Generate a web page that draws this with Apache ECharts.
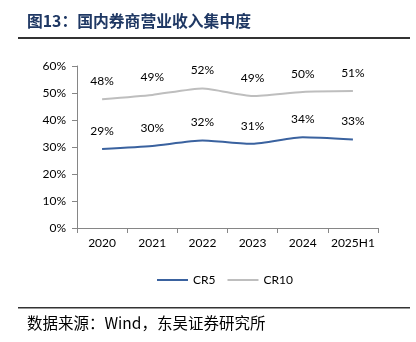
<!DOCTYPE html>
<html>
<head>
<meta charset="utf-8">
<script src="https://cdn.jsdelivr.net/npm/echarts@6/dist/echarts.min.js"></script>
<style>
html,body{margin:0;padding:0;background:#fff;}
#c{width:416px;height:342px;}
</style>
</head>
<body>
<div id="c"></div>
<script>
var categories = ['2020', '2021', '2022', '2023', '2024', '2025H1'];
var cr5 = [29.3, 30.4, 32.4, 31.2, 33.6, 32.8];
var cr10 = [47.7, 49.3, 51.7, 48.9, 50.4, 50.7];
var seriesNames = ['CR5', 'CR10'];
var titleText = '图13：国内券商营业收入集中度';
var sourceText = '数据来源：Wind，东吴证券研究所';

var chart = echarts.init(document.getElementById('c'), null, {renderer: 'canvas'});
var labelFont = 'Lato, "Open Sans", sans-serif';
function lbl(p) { return Math.round(p.value) + '%'; }
chart.setOption({
  animation: false,
  backgroundColor: '#fff',
  grid: {left: 77, right: 38, top: 66, bottom: 114, containLabel: false},
  xAxis: {
    type: 'category',
    data: categories,
    boundaryGap: true,
    axisLine: {lineStyle: {color: '#868686', width: 1}},
    axisTick: {show: true, inside: false, length: 5, interval: 0, lineStyle: {color: '#868686'}},
    axisLabel: {color: '#000', fontSize: 12, fontFamily: labelFont, margin: 9, interval: 0}
  },
  yAxis: {
    type: 'value',
    min: 0, max: 60, interval: 10,
    axisLine: {show: true, lineStyle: {color: '#868686', width: 1}},
    axisTick: {show: true, length: 5, lineStyle: {color: '#868686'}},
    splitLine: {show: false},
    axisLabel: {color: '#000', fontSize: 12, fontFamily: labelFont, margin: 11, formatter: '{value}%'}
  },
  legend: {
    data: seriesNames,
    left: 152, top: 269,
    icon: 'rect',
    itemWidth: 31, itemHeight: 2, itemGap: 12,
    textStyle: {color: '#000', fontSize: 12, fontFamily: labelFont}
  },
  series: [
    {
      name: seriesNames[0], type: 'line', data: cr5, smooth: 0.2,
      symbol: 'circle', symbolSize: 0, showSymbol: true,
      lineStyle: {color: '#3A629F', width: 2},
      itemStyle: {color: '#3A629F'},
      label: {show: true, position: 'top', distance: 12, formatter: lbl, color: '#000', fontSize: 12, fontFamily: labelFont}
    },
    {
      name: seriesNames[1], type: 'line', data: cr10, smooth: 0.2,
      symbol: 'circle', symbolSize: 0, showSymbol: true,
      lineStyle: {color: '#BEBEBE', width: 2},
      itemStyle: {color: '#BEBEBE'},
      label: {show: true, position: 'top', distance: 12, formatter: lbl, color: '#000', fontSize: 12, fontFamily: labelFont}
    }
  ],
  graphic: [
    {type: 'text', left: 27, top: 13, style: {text: titleText, fill: '#1F3864', font: 'bold 15.8px "Noto Sans CJK SC", sans-serif'}},
    {type: 'rect', shape: {x: 18, y: 37, width: 392, height: 2}, style: {fill: '#333'}},
    {type: 'rect', shape: {x: 18, y: 307, width: 392, height: 1.5}, style: {fill: '#333'}},
    {type: 'text', left: 27, top: 315, style: {text: sourceText, fill: '#000', font: '15.5px "Noto Sans CJK SC", sans-serif'}}
  ]
});
</script>
</body>
</html>
